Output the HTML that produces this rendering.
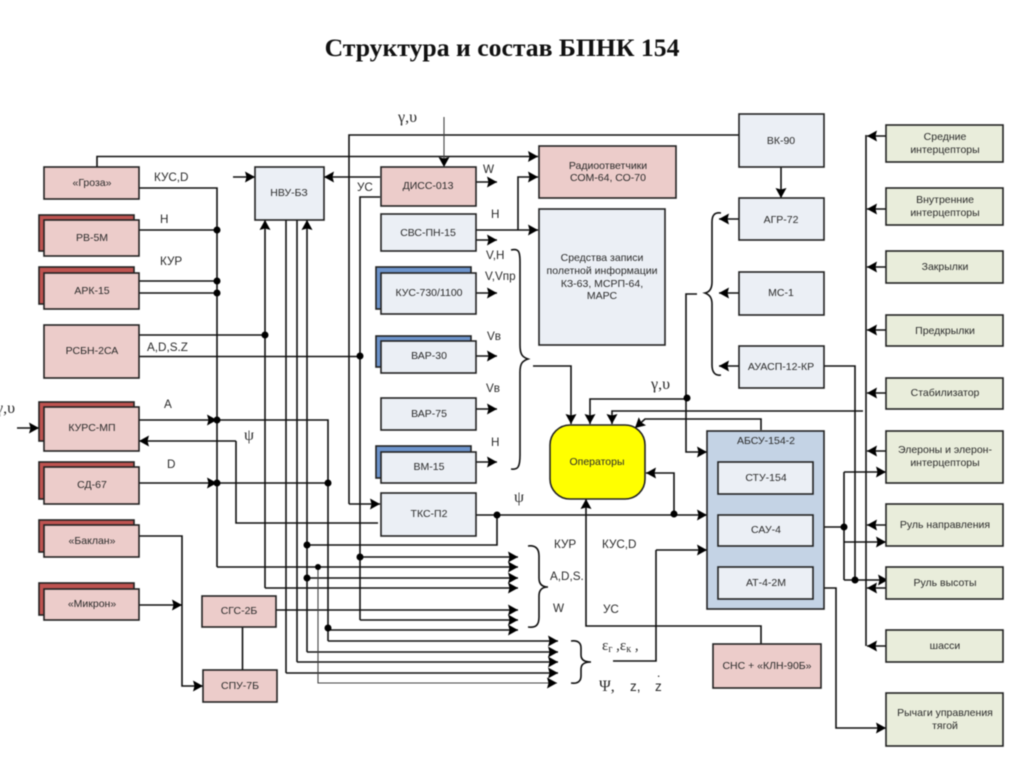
<!DOCTYPE html>
<html lang="ru"><head><meta charset="utf-8"><title>Структура и состав БПНК 154</title>
<style>
html,body{margin:0;padding:0;background:#fff;width:1024px;height:767px;overflow:hidden}
svg{display:block;filter:blur(.4px)}
text{font-family:"Liberation Sans",sans-serif;font-size:10.5px;fill:#2b2b2b}
.c{text-anchor:middle}
.s{font-size:11.7px}
.ser{font-family:"Liberation Serif",serif;font-size:16px}
.title{font-family:"Liberation Serif",serif;font-weight:bold;font-size:25.7px;fill:#111;text-anchor:middle}
.p{fill:#ecccca;stroke:#222;stroke-width:1.6}
.l{fill:#ebeff5;stroke:#222;stroke-width:1.6}
.g{fill:#e9eddb;stroke:#222;stroke-width:1.6}
.r{fill:#bf5350;stroke:#222;stroke-width:1.6}
.b{fill:#6d94cc;stroke:#222;stroke-width:1.6}
.w{fill:none;stroke:#111;stroke-width:1.6}
.t{fill:none;stroke:#444;stroke-width:1.1}
.a{marker-end:url(#ar)}
circle{fill:#000}
</style></head><body>
<svg width="1024" height="767" viewBox="0 0 1024 767" xmlns="http://www.w3.org/2000/svg">
<defs><marker id="ar" markerUnits="userSpaceOnUse" markerWidth="10" markerHeight="11" refX="10" refY="5.500" orient="auto"><path d="M0 0L10 5.500L0 11L1.500 5.500Z" fill="#000"/></marker></defs>
<text class="title" x="502" y="56">Структура и состав БПНК 154</text>

<!-- connectors -->
<g class="w">
<path class="a" d="M97 167V156.500H538"/>
<path d="M139 188H217V567"/>
<path class="a" d="M217 567H518"/>
<path d="M139 230H217M139 281H217M139 293H217M139 335H265"/>
<path d="M139 356.500H360"/>
<path class="a" d="M139 420H217"/>
<path d="M217 420H328V641"/>
<path class="a" d="M328 641H558"/>
<path class="a" d="M139 483H217"/>
<path d="M217 483H328"/>
<path class="a" d="M328 630H518"/>
<path class="a" d="M265 588V220"/>
<path class="a" d="M265 588H518"/>
<path d="M286 220V673"/>
<path class="a" d="M286 673H558"/>
<path d="M297 220V662"/>
<path class="a" d="M297 662H558"/>
<path class="a" d="M307 652V220"/>
<path class="a" d="M307 652H558"/>
<path class="a" d="M307 578H518"/>
<path d="M307 545H497V515"/>
<path class="a" d="M233 177H255"/>
<path class="a" d="M380 177H324"/>
<path class="a" d="M236 441H139"/>
<path d="M236 441V523H378"/>
<path class="a" d="M276 610H518"/>
<path d="M380 197H360V620"/>
<path class="a" d="M360 620H518"/>
<path class="a" d="M360 557H518"/>
<path d="M739 135H349V504"/>
<path class="a" d="M349 504H380"/>
<path class="a" d="M476 182H497"/>
<path class="a" d="M476 230H538"/>
<path class="a" d="M518 230V177H538"/>
<path class="a" d="M476 240H497"/>
<path class="a" d="M476 293H497"/>
<path class="a" d="M476 356H497"/>
<path class="a" d="M476 409H497"/>
<path class="a" d="M476 462H497"/>
<path d="M511 250C519 248 520 252 520 262V345C520 354 522 357 528 359C522 361 520 364 520 372V455C520 467 518 470 511 469"/>
<path class="a" d="M533 366H571V424"/>
<path class="a" d="M687 399H590V424"/>
<path class="a" d="M863 411H612V424"/>
<path class="a" d="M761 430V419H645L635 428"/>
<path class="a" d="M476 515H707"/>
<path class="a" d="M674 515V473H646"/>
<path class="a" d="M761 644V626H586V499"/>
<path d="M613 661H656V550"/>
<path class="a" d="M656 550H707"/>
<path class="a" d="M697 294H686V452H707"/>
<path d="M721 213C714 212 712 216 712 222V282C712 288 710 292 705 293C710 295 712 298 712 304V365C712 372 715 376 721 375"/>
<path class="a" d="M739 219H719"/>
<path class="a" d="M739 293H719"/>
<path class="a" d="M739 366H719"/>
<path class="a" d="M781 167V198"/>
<path d="M824 366H855V580"/>
<path d="M813 527H844V472"/>
<path class="a" d="M844 472H886"/>
<path class="a" d="M844 542H886"/>
<path d="M844 527V580"/>
<path class="a" d="M844 580H888"/>
<path class="a" d="M811 588H836V728H886"/>
<path d="M866 135V646"/>
<path class="a" d="M886 136H867"/>
<path class="a" d="M886 209H867"/>
<path class="a" d="M886 267H867"/>
<path class="a" d="M886 330H867"/>
<path class="a" d="M886 393H867"/>
<path class="a" d="M886 451H867"/>
<path class="a" d="M886 525H867"/>
<path class="a" d="M886 588H867"/>
<path class="a" d="M886 646H867"/>
<path d="M528 546C536 545 539 549 539 556V578C539 584 542 587 548 587C542 587 539 590 539 596V617C539 625 536 628 528 627"/>
<path d="M571 641C578 640 581 643 581 648V655C581 660 585 662 591 662C585 662 581 664 581 669V676C581 681 578 684 571 683"/>
<path class="a" d="M139 536H182V686H203"/>
<path class="a" d="M139 605H182"/>
<path d="M242.500 627V670"/>
</g>
<path class="t a" d="M444 117V167"/>
<path class="t a" d="M318 567V683H557"/>
<path class="w a" d="M17 428H39"/>

<!-- junction dots -->
<g>
<circle cx="217" cy="230" r="3.500"/><circle cx="217" cy="281" r="3.500"/><circle cx="217" cy="293" r="3.500"/>
<circle cx="265" cy="335" r="3.500"/><circle cx="217" cy="420" r="3.500"/><circle cx="217" cy="483" r="3.500"/>
<circle cx="328" cy="483" r="3.500"/><circle cx="328" cy="628" r="3.500"/><circle cx="307" cy="545" r="3.500"/>
<circle cx="307" cy="578" r="3.500"/><circle cx="318" cy="567" r="3"/><circle cx="360" cy="356" r="3.500"/>
<circle cx="360" cy="557" r="3.500"/><circle cx="497" cy="515" r="3.500"/><circle cx="674" cy="514" r="3.500"/>
<circle cx="687" cy="398" r="3.500"/><circle cx="844" cy="527" r="3.500"/><circle cx="855" cy="580" r="3.500"/>
</g>

<!-- left column -->
<rect class="p" x="44" y="167" width="95" height="32"/>
<rect class="r" x="39" y="215" width="95" height="36"/><rect class="p" x="44" y="220" width="95" height="36"/>
<rect class="r" x="39" y="267" width="95" height="37"/><rect class="p" x="44" y="273" width="95" height="36"/>
<rect class="p" x="44" y="325" width="95" height="53"/>
<rect class="r" x="39" y="402" width="95" height="39"/><rect class="p" x="44" y="407" width="95" height="44"/>
<rect class="r" x="39" y="462" width="95" height="37"/><rect class="p" x="44" y="467" width="95" height="37"/>
<rect class="r" x="39" y="520" width="95" height="32"/><rect class="p" x="44" y="525" width="95" height="32"/>
<rect class="r" x="39" y="583" width="95" height="32"/><rect class="p" x="44" y="589" width="95" height="31"/>
<rect class="p" x="202" y="596" width="74" height="31"/>
<rect class="p" x="203" y="670" width="74" height="32"/>
<rect class="l" x="255" y="167" width="69" height="53"/>

<!-- centre column -->
<rect class="p" x="381" y="167" width="95" height="39"/>
<rect class="l" x="381" y="214" width="95" height="37"/>
<rect class="b" x="376" y="267" width="95" height="42"/><rect class="l" x="381" y="273" width="95" height="41"/>
<rect class="b" x="376" y="336" width="95" height="31"/><rect class="l" x="381" y="341" width="95" height="32"/>
<rect class="l" x="381" y="398" width="95" height="32"/>
<rect class="b" x="376" y="446" width="95" height="32"/><rect class="l" x="381" y="452" width="95" height="31"/>
<rect class="l" x="381" y="493" width="95" height="43"/>
<rect class="p" x="539" y="146" width="137" height="52"/>
<rect class="l" x="539" y="209" width="126" height="136"/>
<rect x="550" y="425" width="95" height="74" rx="20" fill="#ffff00" stroke="#222" stroke-width="1.600"/>

<!-- right of centre -->
<rect class="l" x="739" y="114" width="85" height="53"/>
<rect class="l" x="739" y="198" width="85" height="42"/>
<rect class="l" x="739" y="272" width="85" height="43"/>
<rect class="l" x="739" y="346" width="85" height="42"/>
<rect x="707" y="431" width="117" height="178" fill="#c4d3e5" stroke="#222" stroke-width="1.600"/>
<rect class="l" x="718" y="462" width="95" height="32"/>
<rect class="l" x="718" y="515" width="95" height="31"/>
<rect class="l" x="718" y="567" width="95" height="32"/>
<rect class="p" x="713" y="644" width="108" height="44"/>

<!-- right column -->
<rect class="g" x="886" y="125" width="117" height="37"/>
<rect class="g" x="886" y="188" width="117" height="37"/>
<rect class="g" x="886" y="251" width="117" height="32"/>
<rect class="g" x="886" y="315" width="117" height="31"/>
<rect class="g" x="886" y="378" width="117" height="31"/>
<rect class="g" x="886" y="431" width="117" height="52"/>
<rect class="g" x="886" y="504" width="117" height="42"/>
<rect class="g" x="886" y="567" width="117" height="32"/>
<rect class="g" x="886" y="630" width="117" height="32"/>
<rect class="g" x="886" y="693" width="117" height="53"/>

<!-- node labels -->
<g>
<text class="c" x="92" y="186">«Гроза»</text>
<text class="c" x="92" y="241">РВ-5М</text>
<text class="c" x="92" y="294">АРК-15</text>
<text class="c" x="92" y="354">РСБН-2СА</text>
<text class="c" x="92" y="431">КУРС-МП</text>
<text class="c" x="92" y="488">СД-67</text>
<text class="c" x="92" y="544">«Баклан»</text>
<text class="c" x="92" y="607">«Микрон»</text>
<text class="c" x="239" y="614">СГС-2Б</text>
<text class="c" x="240" y="689">СПУ-7Б</text>
<text class="c" x="289" y="196">НВУ-БЗ</text>
<text class="c" x="428" y="189">ДИСС-013</text>
<text class="c" x="428" y="236">СВС-ПН-15</text>
<text class="c" x="429" y="296">КУС-730/1100</text>
<text class="c" x="429" y="359">ВАР-30</text>
<text class="c" x="429" y="417">ВАР-75</text>
<text class="c" x="429" y="470">ВМ-15</text>
<text class="c" x="429" y="517">ТКС-П2</text>
<text class="c" x="608" y="169">Радиоответчики</text>
<text class="c" x="608" y="181">СОМ-64, СО-70</text>
<text class="c" x="602" y="261">Средства записи</text>
<text class="c" x="602" y="274">полетной информации</text>
<text class="c" x="602" y="287">КЗ-63, МСРП-64,</text>
<text class="c" x="602" y="299">МАРС</text>
<text class="c" x="597" y="465">Операторы</text>
<text class="c" x="781" y="144">ВК-90</text>
<text class="c" x="781" y="223">АГР-72</text>
<text class="c" x="781" y="296">МС-1</text>
<text class="c" x="781" y="370">АУАСП-12-КР</text>
<text class="c" x="766" y="444">АБСУ-154-2</text>
<text class="c" x="766" y="481">СТУ-154</text>
<text class="c" x="766" y="533">САУ-4</text>
<text class="c" x="766" y="586">АТ-4-2М</text>
<text class="c" x="767" y="669">СНС + «КЛН-90Б»</text>
<text class="c" x="945" y="140">Средние</text>
<text class="c" x="945" y="153">интерцепторы</text>
<text class="c" x="945" y="203">Внутренние</text>
<text class="c" x="945" y="216">интерцепторы</text>
<text class="c" x="945" y="270">Закрылки</text>
<text class="c" x="945" y="334">Предкрылки</text>
<text class="c" x="945" y="396">Стабилизатор</text>
<text class="c" x="945" y="453">Элероны и элерон-</text>
<text class="c" x="945" y="466">интерцепторы</text>
<text class="c" x="945" y="528">Руль направления</text>
<text class="c" x="945" y="586">Руль высоты</text>
<text class="c" x="945" y="649">шасси</text>
<text class="c" x="945" y="716">Рычаги управления</text>
<text class="c" x="945" y="729">тягой</text>
</g>

<!-- signal labels -->
<text class="s" x="154" y="181">КУС,D</text>
<text class="s" x="160" y="223">Н</text>
<text class="s" x="160" y="265">КУР</text>
<text class="s" x="147" y="351">A,D,S.Z</text>
<text class="s" x="164" y="408">А</text>
<text class="ser" x="244" y="440">ψ</text>
<text class="s" x="167" y="468">D</text>
<text class="s" x="357" y="191">УС</text>
<text class="s" x="483" y="173">W</text>
<text class="s" x="491" y="218">Н</text>
<text class="s" x="486" y="259">V,Н</text>
<text class="s" x="485" y="280">V,Vпр</text>
<text class="s" x="487" y="340">Vв</text>
<text class="s" x="486" y="392">Vв</text>
<text class="s" x="491" y="446">Н</text>
<text class="ser" x="514" y="502">ψ</text>
<text class="s" x="554" y="548">КУР</text>
<text class="s" x="602" y="548">КУС,D</text>
<text class="s" x="550" y="580">A,D,S.</text>
<text class="s" x="553" y="612">W</text>
<text class="s" x="603" y="613">УС</text>
<text class="ser" x="398" y="122">γ,υ</text>
<text class="ser" x="651" y="389">γ,υ</text>
<text class="ser" x="-4" y="413">γ,υ</text>
<text class="ser" x="602" y="650" style="font-size:15px">ε<tspan dy="2" style="font-size:10px">г</tspan><tspan dy="-2"> ,ε</tspan><tspan dy="2" style="font-size:10px">к</tspan><tspan dy="-2"> ,</tspan></text>
<text class="ser" x="599" y="691" style="font-size:16px">Ψ,</text>
<text x="630" y="691" style="font-size:13.500px">z,</text>
<text x="655" y="691" style="font-size:13.500px">z</text>
<text class="ser" x="657" y="677" style="font-size:13px">.</text>
</svg>
</body></html>
